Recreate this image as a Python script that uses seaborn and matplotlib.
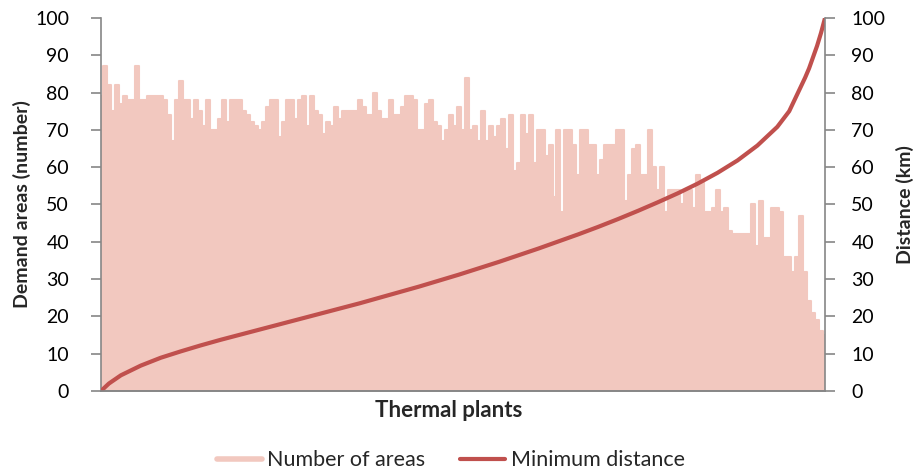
import numpy as np
import pandas as pd
import matplotlib
matplotlib.use("Agg")
import matplotlib.pyplot as plt
from matplotlib.lines import Line2D
import seaborn as sns

# Number of demand areas reachable from each thermal plant (plants ordered by distance)
areas = [
    79, 87, 82, 75, 82, 77, 79, 78, 78, 87, 78, 78, 79, 79, 79, 79, 78, 74, 67, 78,
    83, 78, 78, 73, 78, 75, 71, 78, 70, 70, 73, 78, 72, 78, 78, 78, 75,
    74, 72, 71, 70, 72, 76, 78, 78, 68, 72, 78, 78, 73, 78, 79, 71, 79, 75, 74, 69,
    72, 71, 76, 73, 75, 75, 75, 75, 78, 76, 74, 74, 80, 75, 73, 73, 78,
    74, 74, 76, 79, 79, 78, 70, 70, 77, 78, 72, 71, 67, 70, 74, 71, 76, 70, 84, 70,
    71, 67, 75, 67, 71, 68, 71, 73, 65, 74, 59, 61, 74, 69, 74, 61, 70,
    70, 63, 66, 52, 70, 48, 70, 70, 66, 58, 70, 70, 66, 66, 58, 62, 66, 66, 66, 70,
    70, 51, 58, 65, 66, 58, 58, 70, 60, 54, 60, 48, 54, 54, 54, 50,
    54, 54, 49, 58, 56, 48, 48, 49, 54, 48, 49, 43, 42, 42, 42, 42, 42, 50, 39, 51,
    41, 41, 49, 49, 48, 36, 36, 32, 36, 47, 32, 24, 21, 19, 16, 15,
]
plants = list(range(len(areas)))

# Minimum distance (km) at selected plants along the ordering
dist_plants = [0, 2, 5, 10, 15, 20, 25, 30, 35, 40, 45, 50, 55, 60, 65, 70, 75, 80,
               85, 90, 95, 100, 105, 110, 115, 120, 125, 130, 135, 140, 145, 150,
               155, 160, 165, 170, 173, 175, 177, 178, 179, 180, 181, 182]
distance = [0, 2, 4.2, 6.8, 8.9, 10.6, 12.2, 13.7, 15.1, 16.5, 17.9, 19.3, 20.7,
            22.1, 23.5, 25.0, 26.5, 28.0, 29.6, 31.2, 32.9, 34.6, 36.4, 38.2, 40.1,
            42.0, 44.0, 46.1, 48.3, 50.6, 53.0, 55.6, 58.5, 61.8, 65.8, 70.8, 75.0,
            79.5, 84.0, 86.5, 89.5, 92.5, 96.0, 100]

yticks = list(range(0, 101, 10))

pink = "#F2C8BF"
red = "#C0504D"
grey = "#868686"

sns.set_style("white")
plt.rcParams["font.family"] = ["Lato", "DejaVu Sans"]

df_areas = pd.DataFrame({"plant": plants, "areas": areas})
df_dist = pd.DataFrame({"plant": dist_plants, "distance": distance})

fig = plt.figure(figsize=(9.18, 4.73), dpi=100)
ax = fig.add_axes([0.110, 0.1734, 0.7887, 0.7886])

ax.fill_between(df_areas["plant"], df_areas["areas"], step="mid", color=pink, lw=0)
sns.lineplot(data=df_areas, x="plant", y="areas", ax=ax, color=pink, lw=1.5,
             drawstyle="steps-mid", legend=False)

ax2 = ax.twinx()
sns.lineplot(data=df_dist, x="plant", y="distance", ax=ax2, color=red, lw=3,
             legend=False, solid_capstyle="round", solid_joinstyle="round")

ax.set_xlim(0, len(areas) - 1)
for a in (ax, ax2):
    a.set_ylim(0, 100)
    a.set_yticks(yticks)
    a.set_xticks([])
    a.set_xlabel("")
    a.set_ylabel("")
    for s in a.spines.values():
        s.set_color(grey)
        s.set_linewidth(1.2)
    a.spines["top"].set_visible(False)
    a.tick_params(axis="y", direction="out", length=7, width=1.2, color=grey,
                  labelsize=14, labelcolor="black", pad=16)
ax.spines["right"].set_visible(False)
ax2.spines["left"].set_visible(False)
ax2.tick_params(axis="y", pad=12)

fig.text(0.024, 0.1734 + 0.7886 / 2, "Demand areas (number)", rotation=90,
         ha="center", va="center", fontsize=14, fontweight="bold")
fig.text(0.986, 0.1734 + 0.7886 / 2, "Distance (km)", rotation=90,
         ha="center", va="center", fontsize=14, fontweight="bold")
fig.text(0.489, 0.133, "Thermal plants", ha="center", va="center",
         fontsize=16, fontweight="bold")

handles = [Line2D([], [], color=pink, lw=4), Line2D([], [], color=red, lw=3)]
fig.legend(handles, ["Number of areas", "Minimum distance"], loc="center",
           bbox_to_anchor=(0.491, 0.027), ncol=2, frameon=False, fontsize=15.5,
           handlelength=2.1, handletextpad=0.25, columnspacing=1.6)

fig.savefig("out.png", dpi=100)
